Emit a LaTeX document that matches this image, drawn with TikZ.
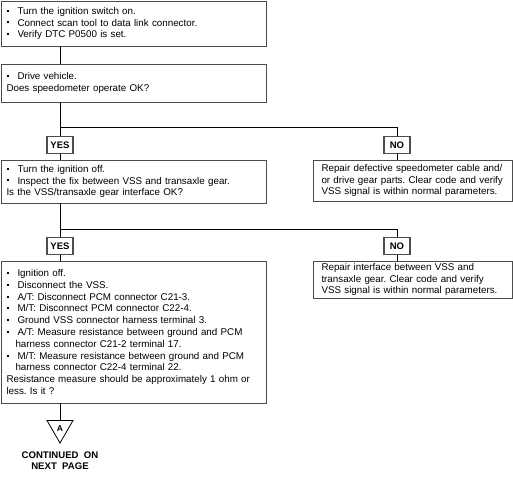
\documentclass[tikz,border=0pt]{standalone}
\usepackage{fontspec}
\setmainfont{Liberation Sans}
\usepackage{tikz}
\usetikzlibrary{shapes.geometric}

\newcommand{\itm}{\makebox[11pt][l]{\raisebox{2.6pt}{\rule{2pt}{2pt}}}}
\newcommand{\hng}{\hspace*{9pt}}
\frenchspacing
\hyphenpenalty=10000

\tikzset{
  box/.style={draw=black!70, line width=0.9pt, rectangle, inner xsep=5.5pt, inner ysep=0pt,
    align=left, font=\fontsize{9.8}{11.8}\selectfont},
  leftbox/.style={box, text width=254pt},
  rightbox/.style={box, text width=190pt, inner xsep=4.5pt},
  answer/.style={draw=black!70, line width=1.2pt, minimum width=26pt, minimum height=17pt,
    inner sep=0pt, font=\fontsize{9.5}{10}\selectfont\bfseries},
  link/.style={draw=black, line width=0.8pt}
}

\begin{document}
\begin{tikzpicture}[x=1pt,y=-1pt]
\useasboundingbox (0,0) rectangle (513,482);

% first checks
\node[leftbox, minimum height=45pt] (n1) at (133.5,23.5) {\itm Turn the ignition switch on.\\
\itm Connect scan tool to data link connector.\\
\itm Verify DTC P0500 is set.};
\node[leftbox, minimum height=38pt] (n2) at (133.5,83) {\itm Drive vehicle.\\
Does speedometer operate OK?};

\node[answer] (yes1) at (60,145) {YES};
\node[answer] (no1) at (397,145) {NO};

\node[leftbox, minimum height=43pt] (n3) at (133.5,181.5) {\itm Turn the ignition off.\\
\itm Inspect the fix between VSS and transaxle gear.\\
Is the VSS/transaxle gear interface OK?};
\node[rightbox, minimum height=41pt] (n3no) at (412.5,180.5) {\hspace*{4pt}Repair defective speedometer cable and/\\
\hspace*{4pt}or drive gear parts. Clear code and verify\\
\hspace*{4pt}VSS signal is within normal parameters.};

\node[answer] (yes2) at (60,246) {YES};
\node[answer] (no2) at (397,246) {NO};

% resistance test
\node[leftbox, minimum height=142pt] (n4) at (133.5,332) {\itm Ignition off.\\
\itm Disconnect the VSS.\\
\itm A/T: Disconnect PCM connector C21-3.\\
\itm M/T: Disconnect PCM connector C22-4.\\
\itm Ground VSS connector harness terminal 3.\\
\itm A/T: Measure resistance between ground and PCM\\
\hng harness connector C21-2 terminal 17.\\
\itm M/T: Measure resistance between ground and PCM\\
\hng harness connector C22-4 terminal 22.\\
Resistance measure should be approximately 1 ohm or\\
less. Is it ?};
\node[rightbox, minimum height=37pt] (n4no) at (412.5,279.5) {\hspace*{4pt}Repair interface between VSS and\\
\hspace*{4pt}transaxle gear. Clear code and verify\\
\hspace*{4pt}VSS signal is within normal parameters.};

% off page connector
\node[draw=black, line width=0.8pt, regular polygon, regular polygon sides=3, shape border rotate=180,
  minimum size=30pt, inner sep=0pt] (contA) at (60,428) {};
\node[font=\fontsize{8.5}{10}\selectfont\bfseries, inner sep=0pt] (lblA) at (60,429) {A};
\node[font=\fontsize{9.6}{11}\selectfont\bfseries, align=center] (cont) at (60,461) {CONTINUED\ \ ON\\NEXT\ \ PAGE};

\coordinate (j1) at (60,127);
\coordinate (j2) at (60,229);

\draw[link] (n1.south -| yes1) -- (n2.north -| yes1);
\draw[link] (n2.south -| yes1) -- (yes1.north);
\draw[link] (j1) -| (no1.north);
\draw[link] (yes1.south) -- (n3.north -| yes1);
\draw[link] (no1.south) -- (n3no.north -| no1);
\draw[link] (n3.south -| yes2) -- (yes2.north);
\draw[link] (j2) -| (no2.north);
\draw[link] (yes2.south) -- (n4.north -| yes2);
\draw[link] (no2.south) -- (n4no.north -| no2);
\draw[link] (n4.south -| contA) -- (contA.north);
\end{tikzpicture}
\end{document}
